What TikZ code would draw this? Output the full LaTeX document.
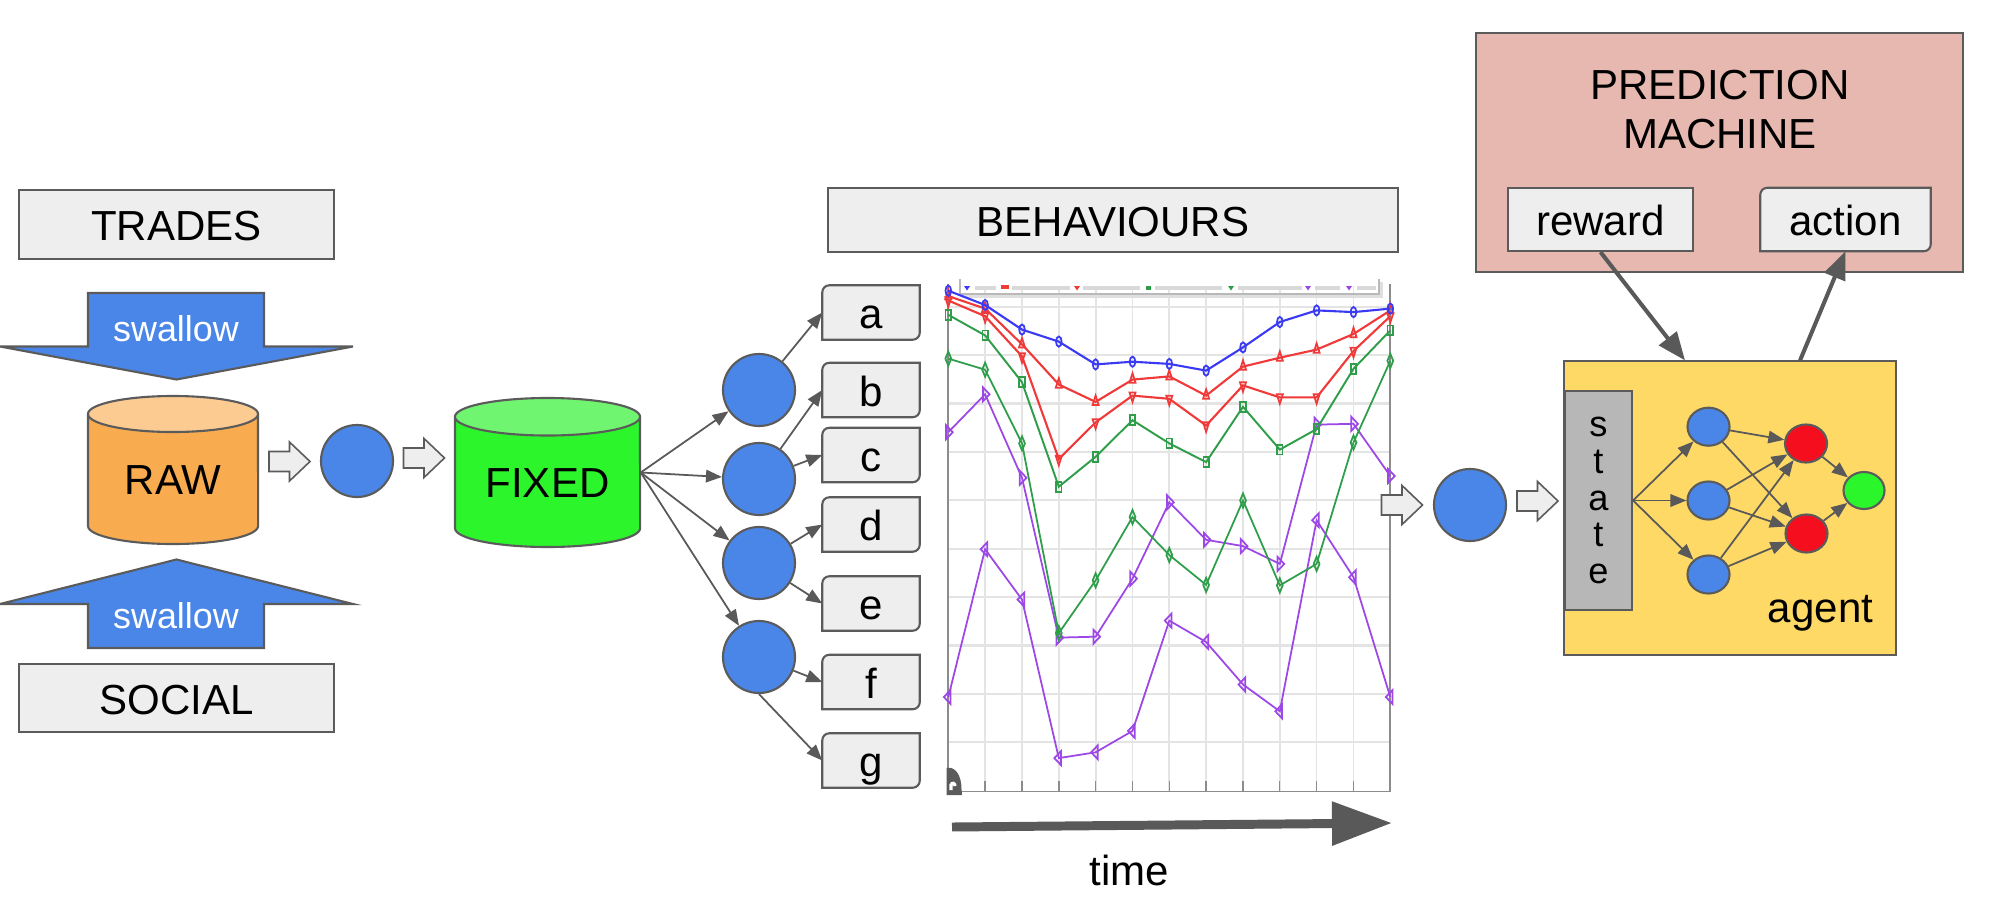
\documentclass[tikz,border=0pt]{standalone}
\usepackage{fontspec}
\setmainfont{Liberation Sans}
\usetikzlibrary{arrows.meta,plotmarks,shapes.geometric,backgrounds}
\definecolor{bord}{HTML}{5B5B5B}
\definecolor{arrowgray}{HTML}{595959}
\definecolor{boxfill}{HTML}{EEEEEE}
\definecolor{gblue}{HTML}{4A86E8}
\definecolor{rawbody}{HTML}{F9AB4F}
\definecolor{rawtop}{HTML}{FCCB92}
\definecolor{fixbody}{HTML}{2CF52C}
\definecolor{fixtop}{HTML}{6FF56F}
\definecolor{pmfill}{HTML}{E6B8AF}
\definecolor{agentfill}{HTML}{FFD966}
\definecolor{statefill}{HTML}{B7B7B7}
\definecolor{nred}{HTML}{F50F1E}
\definecolor{ngreen}{HTML}{2BF52B}
\definecolor{sblue}{HTML}{3A3AF5}
\definecolor{sred}{HTML}{F03A3A}
\definecolor{sgreen}{HTML}{2E9E4A}
\definecolor{spurple}{HTML}{9D48E6}
\definecolor{gridc}{HTML}{E4E4E4}
\definecolor{axisc}{HTML}{8C8C8C}
\newcommand\tabshape[1]{%
  \draw[line width=0.6pt, draw=bord, fill=boxfill]
    ([yshift=-0.07cm]#1.north west) arc[start angle=180,end angle=90,radius=0.07cm]
    -- (#1.north east) -- ([yshift=0.07cm]#1.south east)
    arc[start angle=0,end angle=-90,radius=0.07cm] -- (#1.south west) -- cycle;}
\tikzset{
  bl/.style={line width=0.6pt, draw=bord},
  lab/.style={font=\fontsize{11.95}{14}\selectfont, text height=0.32cm, text depth=0cm, inner sep=0pt},
  gbox/.style={lab, bl, fill=boxfill, rectangle},
  tabbox/.style={lab, rectangle, minimum width=0.96cm, minimum height=0.53cm},
  dot/.style={circle, bl, fill=gblue, minimum size=0.72cm, inner sep=0pt},
  conn/.style={draw=arrowgray, line width=0.5pt, -{Triangle[length=0.16cm,width=0.125cm]}},
  bigconn/.style={draw=arrowgray, line width=1.15pt, -{Triangle[length=0.28cm,width=0.22cm]}},
  neuron/.style={ellipse, bl, minimum width=0.42cm, minimum height=0.38cm, inner sep=0pt},
  swl/.style={font=\fontsize{10.2}{12}\selectfont, text=white, inner sep=0pt},
  harrow/.pic={\draw[line width=0.45pt, draw=bord, fill=boxfill] (-20.5,-10) -- (0,-10) -- (0,-19.5) -- (20.5,0) -- (0,19.5) -- (0,10) -- (-20.5,10) -- cycle;},
  ser/.style={line width=0.6pt},
  mk/.style={solid, fill=white, line width=0.5pt, xscale=0.55},
}
\begin{document}
\begin{tikzpicture}[x=0.01cm, y=-0.01cm]
\useasboundingbox (0,0) rectangle (2000,906);
\begin{pgfonlayer}{background}
\fill[white] (0,0) rectangle (2000,906);
\end{pgfonlayer}

% ---------- left column ----------
\node[gbox, minimum width=3.15cm, minimum height=0.685cm] (trades) at (176.5,224.3) {TRADES};
\node[gbox, minimum width=3.15cm, minimum height=0.685cm] (social) at (176.5,698) {SOCIAL};

\draw[bl, fill=gblue] (88,293) -- (264,293) -- (264,346.5) -- (353,346.5) -- (176.5,379.5) -- (0,346.5) -- (88,346.5) -- cycle;
\node[swl, anchor=base] (sw1) at (176,341) {swallow};
\draw[bl, fill=gblue] (88,648) -- (264,648) -- (264,604) -- (353,604) -- (176.5,559.5) -- (0,604) -- (88,604) -- cycle;
\node[swl, anchor=base] (sw2) at (176,628) {swallow};

% RAW cylinder
\fill[rawbody] (88,414) -- (88,526) arc[start angle=180,end angle=360,x radius=0.85cm,y radius=0.18cm] -- (258,414) -- cycle;
\draw[bl] (88,414) -- (88,526) arc[start angle=180,end angle=360,x radius=0.85cm,y radius=0.18cm] -- (258,414);
\draw[bl, fill=rawtop] (173,414) ellipse[x radius=0.85cm, y radius=0.18cm];
\node[lab, minimum width=1.7cm, minimum height=1.48cm, text height=0.49cm] (raw) at (173,470) {RAW};

\pic at (289.5,461.5) {harrow};
\node[dot] (p1) at (357,461) {};
\pic at (424,458) {harrow};

% FIXED cylinder
\fill[fixbody] (455,416.75) -- (455,528.25) arc[start angle=180,end angle=360,x radius=0.925cm,y radius=0.1875cm] -- (640,416.75) -- cycle;
\draw[bl] (455,416.75) -- (455,528.25) arc[start angle=180,end angle=360,x radius=0.925cm,y radius=0.1875cm] -- (640,416.75);
\draw[bl, fill=fixtop] (547.5,416.75) ellipse[x radius=0.925cm, y radius=0.1875cm];
\node[lab, minimum width=1.85cm, minimum height=1.49cm, text height=0.5cm] (fixed) at (547.5,472.5) {FIXED};

% behaviour circles
\node[dot] (c1) at (759,390) {};
\node[dot] (c2) at (759,479) {};
\node[dot] (c3) at (759,563) {};
\node[dot] (c4) at (759,657) {};

\node[tabbox] (a) at (871,312.5) {a};
\node[tabbox] (b) at (871,390) {b};
\node[tabbox] (c) at (871,455) {c};
\node[tabbox] (d) at (871,524.5) {d};
\node[tabbox] (e) at (871,603.5) {e};
\node[tabbox] (f) at (871,682) {f};
\node[tabbox] (g) at (871,760.5) {g};

\draw[conn] (fixed.east) -- (c1);
\draw[conn] (fixed.east) -- (c2);
\draw[conn] (fixed.east) -- (c3);
\draw[conn] (fixed.east) -- (c4);
\draw[conn] (c1) -- (a.west);
\draw[conn] (c2) -- (b.west);
\draw[conn] (c2) -- (c.west);
\draw[conn] (c3) -- (d.west);
\draw[conn] (c3) -- (e.west);
\draw[conn] (c4) -- (f.west);
\draw[conn] (c4.south) -- (g.west);

\node[gbox, minimum width=5.70cm, minimum height=0.64cm] (beh) at (1113,220) {BEHAVIOURS};

% ---------- chart ----------
\foreach \i in {1,...,11} \draw[gridc, line width=0.5pt] ({948.3+36.83*\i},286) -- ({948.3+36.83*\i},791);
\foreach \k in {1,...,10} \draw[gridc, line width=0.6pt] (948.3,{790.7-48.4*\k}) -- (1390.3,{790.7-48.4*\k});
\foreach \i in {1,...,11} \draw[axisc, line width=0.4pt] ({948.3+36.83*\i},781) -- ({948.3+36.83*\i},791);
\draw[axisc, line width=0.5pt] (948.3,284) -- (948.3,791.5) -- (1390.3,791.5) -- (1390.3,284);
% legend strip
\draw[gray!55, line width=0.4pt] (960,279) -- (960,294) -- (1379,294) -- (1379,279);
\draw[gray!25, line width=0.9pt] (962,296.5) -- (1381.5,296.5) -- (1381.5,282);
\foreach \a/\b in {975/996,1012/1070,1083/1140,1155/1222,1238/1302,1315/1340,1357/1376}
  \draw[gray!30, line width=1.4pt] (\a,288) -- (\b,288);
\fill[sblue] (964,286) -- (970,286) -- (967,290.5) -- cycle;
\draw[sred, line width=1pt] (1001,287) -- (1009,287);
\fill[sred] (1074,286) -- (1080,286) -- (1077,290.5) -- cycle;
\fill[sgreen] (1145.5,285.5) rectangle (1150.5,290);
\fill[sgreen] (1228,286) -- (1234,286) -- (1231,290.5) -- cycle;
\fill[spurple] (1305,286) -- (1311,286) -- (1308,290.5) -- cycle;
\fill[spurple] (1346,286) -- (1352,286) -- (1349,290.5) -- cycle;
% corner artifact
\fill[bord] (946.5,795) -- (946.5,768) .. controls (955,766) and (961.5,775) .. (961.5,789) -- (962,795) -- cycle;
\draw[white, line width=0.9pt] (951,790) -- (951,785) .. controls (952,782) and (955,783) .. (955,786);

\draw[ser, spurple, line width=0.5pt] plot[mark=triangle, mark size=2.3pt, mark options={mk, rotate=90}] coordinates {
(948.3,697) (985.1,549.2) (1022.0,599.6) (1058.8,758.1) (1095.6,752.3) (1132.5,730.9) (1169.3,620.6) (1206.1,642) (1243.0,684.5) (1279.8,711.3) (1316.6,520.2) (1353.5,577.3) (1390.3,697)};
\draw[ser, spurple, line width=0.5pt] plot[mark=triangle, mark size=2.3pt, mark options={mk, rotate=-90}] coordinates {
(948.3,432.2) (985.1,394.3) (1022.0,477.8) (1058.8,637.6) (1095.6,636.7) (1132.5,578.7) (1169.3,502.3) (1206.1,539.8) (1243.0,546.1) (1279.8,563.9) (1316.6,424.6) (1353.5,423.8) (1390.3,476)};
\draw[ser, sgreen, line width=0.5pt] plot[mark=diamond, mark size=2pt, mark options={mk}] coordinates {
(948.3,358.6) (985.1,369.7) (1022.0,443.4) (1058.8,633.1) (1095.6,580.4) (1132.5,517) (1169.3,555) (1206.1,584.9) (1243.0,500.5) (1279.8,585.4) (1316.6,563.9) (1353.5,442.5) (1390.3,360.8)};
\draw[ser, sgreen, line width=0.55pt] plot[mark=square, mark size=1.4pt, mark options={mk}] coordinates {
(948.3,314.8) (985.1,335.4) (1022.0,382.2) (1058.8,486.7) (1095.6,456.8) (1132.5,420.2) (1169.3,443.4) (1206.1,462.1) (1243.0,406.8) (1279.8,449.6) (1316.6,429.1) (1353.5,368.8) (1390.3,330.4)};
\draw[ser, sred] plot[mark=triangle, mark size=1.8pt, mark options={mk, rotate=180}] coordinates {
(948.3,300.5) (985.1,316.2) (1022.0,356.3) (1058.8,459) (1095.6,422.4) (1132.5,395.6) (1169.3,398.8) (1206.1,425.5) (1243.0,385.4) (1279.8,397.4) (1316.6,397.4) (1353.5,351) (1390.3,316.2)};
\draw[ser, sred] plot[mark=triangle, mark size=1.8pt, mark options={mk}] coordinates {
(948.3,296.1) (985.1,308.6) (1022.0,344.3) (1058.8,384.5) (1095.6,401.9) (1132.5,379.6) (1169.3,376.4) (1206.1,395.6) (1243.0,366.6) (1279.8,357.7) (1316.6,349.6) (1353.5,334) (1390.3,310.4)};
\draw[ser, sblue] plot[mark=o, mark size=1.45pt, mark options={mk}] coordinates {
(948.3,290.7) (985.1,305) (1022.0,329.6) (1058.8,341.6) (1095.6,364.4) (1132.5,361.7) (1169.3,363.9) (1206.1,370.6) (1243.0,347.4) (1279.8,322) (1316.6,310.4) (1353.5,312.1) (1390.3,308.6)};

% time arrow
\coordinate (t0) at (952,827);
\coordinate (t1) at (1392,823);
\draw[draw=arrowgray, line width=2.55pt, -{Triangle[length=0.6cm,width=0.42cm]}] (t0) -- (t1);
\node[lab, anchor=base] (timelbl) at (1129,885) {time};

% ---------- right part ----------
\pic at (1402,505) {harrow};
\node[dot] (p2) at (1470,505) {};
\pic at (1537.5,501) {harrow};

\begin{pgfonlayer}{background}
\node[rectangle, bl, fill=pmfill, minimum width=4.87cm, minimum height=2.39cm] (pm) at (1719.5,152.5) {};
\end{pgfonlayer}
\node[lab] (pmt1) at (1720,83) {PREDICTION};
\node[lab] (pmt2) at (1720,132) {MACHINE};
\node[gbox, minimum width=1.85cm, minimum height=0.63cm] (reward) at (1600.5,219.5) {reward};
\node[tabbox, minimum width=1.69cm, minimum height=0.62cm] (action) at (1845.5,219.5) {action};

\node[rectangle, bl, fill=agentfill, minimum width=3.32cm, minimum height=2.935cm] (agent) at (1730,508.25) {};
\node[rectangle, bl, fill=statefill, minimum width=0.67cm, minimum height=2.19cm, inner sep=0pt, align=center, font=\fontsize{10.3}{10.47}\selectfont] (state) at (1598.5,500.5) {s\\t\\a\\t\\e};
\node[lab, anchor=base] (agentlbl) at (1820.5,622) {agent};

\node[neuron, fill=gblue] (n1) at (1708.5,426.7) {};
\node[neuron, fill=gblue] (n2) at (1708.5,500.5) {};
\node[neuron, fill=gblue] (n3) at (1708.5,574.5) {};
\node[neuron, fill=nred] (r1) at (1806,443.5) {};
\node[neuron, fill=nred] (r2) at (1806.5,533.5) {};
\node[neuron, fill=ngreen, minimum width=0.41cm, minimum height=0.37cm] (out) at (1864,490.5) {};

\draw[conn] (state.east) -- (n1);
\draw[conn] (state.east) -- (n2);
\draw[conn] (state.east) -- (n3);
\draw[conn] (n1) -- (r1);
\draw[conn] (n1) -- (r2);
\draw[conn] (n2) -- (r1);
\draw[conn] (n2) -- (r2);
\draw[conn] (n3) -- (r1);
\draw[conn] (n3) -- (r2);
\draw[conn] (r1) -- (out);
\draw[conn] (r2) -- (out);

\draw[bigconn] (reward.south) -- ([xshift=-0.45cm]agent.north);
\draw[bigconn] ([xshift=0.7cm]agent.north) -- (action.south);

\begin{pgfonlayer}{background}
\tabshape{a}\tabshape{b}\tabshape{c}\tabshape{d}\tabshape{e}\tabshape{f}\tabshape{g}
\tabshape{action}
\end{pgfonlayer}
\end{tikzpicture}
\end{document}
